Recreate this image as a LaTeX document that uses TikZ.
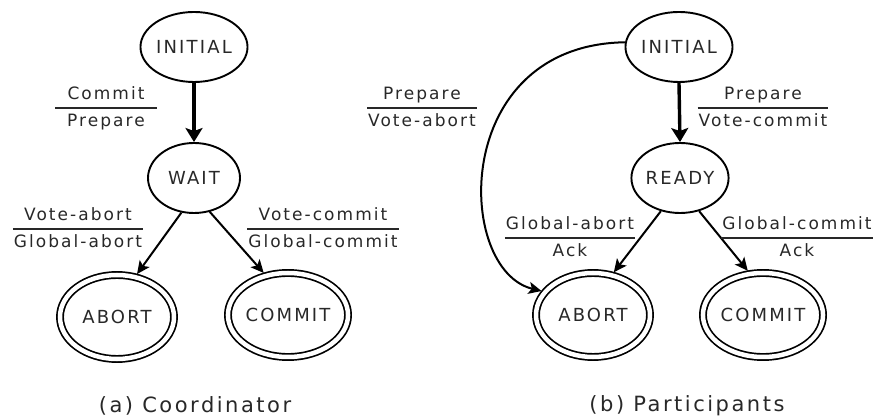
\documentclass[tikz,border=0pt]{standalone}
\usepackage{fontspec}
\setmainfont{DejaVu Sans}[LetterSpace=12]
\usetikzlibrary{arrows.meta,shapes.geometric}
\definecolor{txt}{RGB}{40,40,40}
\newcommand\statefont{\fontsize{18}{21}\selectfont}
\newcommand\lblfont{\fontsize{17}{20}\selectfont}
\newcommand\capfont{\fontsize{21}{24}\selectfont}
% transition label: input above the bar, output below it
\newcommand\trlabel[3][1pt]{%
  \renewcommand\arraystretch{1.25}%
  \setlength\arrayrulewidth{1.3pt}%
  \begin{tabular}{@{\hspace{#1}}c@{\hspace{#1}}}#2\\\hline #3\end{tabular}}
\begin{document}
\begin{tikzpicture}[x=1pt,y=-1pt,
  stnode/.style={ellipse, draw, line width=1.9pt, minimum width=92pt,
    minimum height=70pt, inner sep=0pt, font=\statefont, text=txt},
  finnode/.style={ellipse, draw, line width=1.7pt, double, double distance=4.5pt,
    minimum width=114pt, minimum height=84pt, inner sep=0pt, outer sep=3.5pt,
    font=\statefont, text=txt},
  mainarrow/.style={-{Stealth[length=14pt,width=17pt,inset=3pt]}, line width=3.4pt},
  sidearrow/.style={-{Stealth[length=13pt,width=12pt,inset=3pt]}, line width=2pt},
  trnode/.style={inner sep=0pt, font=\lblfont, text=txt},
  captxt/.style={inner sep=0pt, font=\capfont, text=txt}]
\useasboundingbox (0,0) rectangle (878,419);

% (a) coordinator
\node[stnode] (iniA) at (194,47) {INITIAL};
\node[stnode] (waitA) at (194,178) {WAIT};
\node[finnode] (abortA) at (117,317) {ABORT};
\node[finnode] (commitA) at (288,315) {COMMIT};
\draw[mainarrow] (iniA.south) -- (waitA.north);
\draw[sidearrow] (waitA.250) -- (abortA.65);
\draw[sidearrow] (waitA.295) -- (commitA.120);
\node[trnode] (tA1) at (106,108) {\trlabel[12pt]{Commit}{Prepare}};
\node[trnode] (tA2) at (78,229) {\trlabel{Vote-abort}{Global-abort}};
\node[trnode] (tA3) at (323,229) {\trlabel{Vote-commit}{Global-commit}};
\node[captxt] (capA) at (195,406) {(a) Coordinator};

% (b) participants
\node[stnode] (iniB) at (679,47) {INITIAL};
\node[stnode] (readyB) at (680,178) {READY};
\node[finnode] (abortB) at (593,315) {ABORT};
\node[finnode] (commitB) at (763,315) {COMMIT};
\draw[mainarrow] (iniB.south) -- (readyB.north);
\draw[sidearrow] (readyB.240) -- (abortB.64);
\draw[sidearrow] (readyB.300) -- (commitB.109);
\draw[sidearrow] (iniB.175) .. controls (450,45) and (455,270) .. (abortB.155);
\node[trnode] (tB1) at (422,108) {\trlabel{Prepare}{Vote-abort}};
\node[trnode] (tB2) at (763,108) {\trlabel{Prepare}{Vote-commit}};
\node[trnode] (tB3) at (570,238) {\trlabel{Global-abort}{Ack}};
\node[trnode] (tB4) at (797,238) {\trlabel{Global-commit}{Ack}};
\node[captxt] (capB) at (687,406) {(b) Participants};
\end{tikzpicture}
\end{document}
